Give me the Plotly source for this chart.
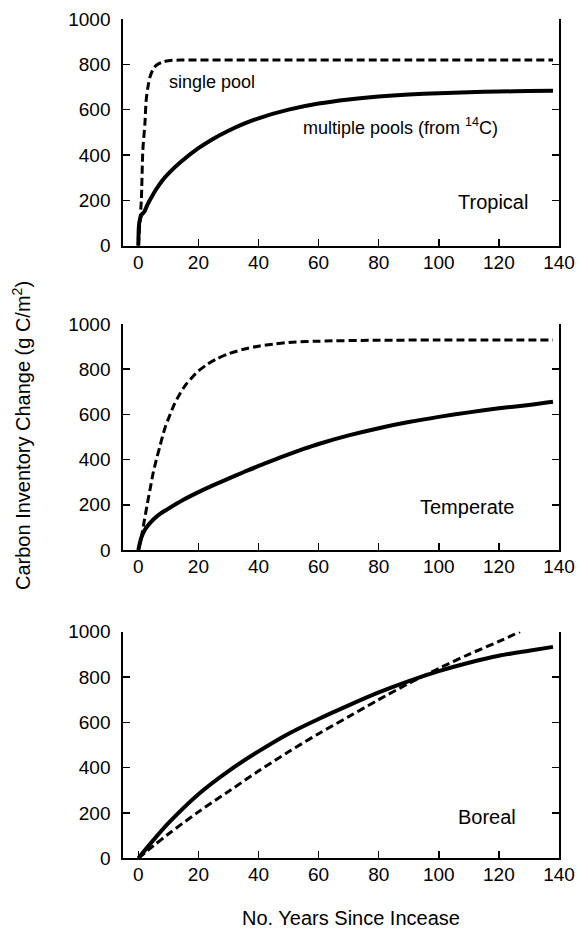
import plotly.graph_objects as go

# ---- data ----
trop_single_x = [0, 0.5, 1.0, 1.5, 2.2, 2.6, 3.2, 3.9, 5.0, 6.1, 8.0, 10, 15, 40, 80, 138]
trop_single_y = [0, 100, 200, 420, 540, 640, 700, 745, 780, 797, 810, 816, 819, 819, 819, 819]
trop_multi_x = [0, 0.3, 1, 2, 3, 4, 6, 8, 10, 14, 20, 25, 30, 35, 40, 50, 60, 70, 80, 90, 100, 110, 120, 130, 138]
trop_multi_y = [0, 100, 135, 150, 180, 205, 250, 288, 318, 368, 430, 472, 507, 537, 562, 600, 627, 645, 658, 667, 673, 677, 680, 682, 684]

temp_single_x = [0, 1, 2, 3, 4, 5, 6, 7, 8, 9, 10, 12, 14, 16, 18, 20, 23, 26, 30, 35, 40, 45, 50, 60, 80, 100, 138]
temp_single_y = [0, 55, 130, 205, 275, 345, 400, 450, 500, 545, 580, 645, 695, 735, 765, 792, 822, 845, 868, 888, 902, 911, 918, 924, 928, 929, 929]
temp_multi_x = [0, 1, 2, 3, 5, 7, 10, 15, 20, 25, 30, 35, 40, 45, 50, 55, 60, 70, 80, 90, 100, 110, 120, 130, 138]
temp_multi_y = [0, 55, 85, 105, 135, 158, 183, 222, 256, 287, 316, 344, 372, 398, 423, 447, 469, 507, 539, 566, 589, 609, 627, 642, 656]

bor_single_x = [0, 5, 10, 20, 30, 40, 50, 60, 70, 80, 90, 100, 110, 120, 127]
bor_single_y = [0, 55, 107, 205, 295, 385, 470, 550, 625, 700, 772, 838, 900, 957, 1000]
bor_multi_x = [0, 5, 10, 20, 30, 40, 50, 60, 70, 80, 90, 100, 110, 120, 130, 138]
bor_multi_y = [0, 80, 155, 283, 385, 472, 550, 615, 675, 732, 782, 826, 863, 894, 916, 933]

x_ticks = [0, 20, 40, 60, 80, 100, 120, 140]
y_ticks = [0, 200, 400, 600, 800, 1000]
panel_names = ["Tropical", "Temperate", "Boreal"]

W, H = 579, 930
FONT = "Liberation Sans, Arial, Helvetica, sans-serif"

fig = go.Figure()

panels = [
    (trop_single_x, trop_single_y, trop_multi_x, trop_multi_y),
    (temp_single_x, temp_single_y, temp_multi_x, temp_multi_y),
    (bor_single_x, bor_single_y, bor_multi_x, bor_multi_y),
]

# pixel positions of panels in the page (top, bottom)
panel_px = [(19, 245.7), (324, 550), (631.7, 858.3)]
x_px = (123.3, 559)

for i, (sx, sy, mx, my) in enumerate(panels):
    n = "" if i == 0 else str(i + 1)
    fig.add_trace(go.Scatter(x=mx, y=my, mode="lines", xaxis="x" + n, yaxis="y" + n,
                             line=dict(color="black", width=4, shape="spline", smoothing=0.8),
                             showlegend=False, hoverinfo="skip"))
    fig.add_trace(go.Scatter(x=sx, y=sy, mode="lines", xaxis="x" + n, yaxis="y" + n,
                             line=dict(color="black", width=3, dash="8px,4px", shape="spline", smoothing=0.8),
                             showlegend=False, hoverinfo="skip"))

layout = dict(
    template="none",
    width=W, height=H,
    margin=dict(l=0, r=0, t=0, b=0, pad=0),
    paper_bgcolor="white", plot_bgcolor="white",
    font=dict(family=FONT, color="black", size=19),
    showlegend=False,
    hovermode=False,
)


def fx(px):
    return px / W


def fy(py):
    return 1 - py / H


for i, (top, bot) in enumerate(panel_px):
    n = "" if i == 0 else str(i + 1)
    layout["xaxis" + n] = dict(
        domain=[fx(x_px[0]), fx(x_px[1])],
        anchor="y" + n,
        range=[-5, 140],
        tickvals=x_ticks, ticktext=[str(v) for v in x_ticks],
        ticks="inside", ticklen=7, tickwidth=1.5, tickcolor="black",
        showline=True, linecolor="black", linewidth=2,
        showgrid=False, zeroline=False, automargin=False,
        tickfont=dict(size=19, family=FONT, color="black"),
        ticklabelstandoff=-2,
    )
    layout["yaxis" + n] = dict(
        domain=[fy(bot), fy(top)],
        anchor="x" + n,
        range=[0, 1000],
        tickvals=y_ticks, ticktext=[str(v) for v in y_ticks],
        ticks="inside", ticklen=7, tickwidth=1.5, tickcolor="black",
        showline=True, linecolor="black", linewidth=2, mirror="ticks",
        showgrid=False, zeroline=False, automargin=False,
        tickfont=dict(size=19, family=FONT, color="black"),
        ticklabelstandoff=7,
    )

fig.update_layout(**layout)

annotations = [
    dict(text="single pool", x=9.5, y=723, xref="x", yref="y", xanchor="left", yanchor="middle",
         showarrow=False, font=dict(size=18)),
    dict(text="multiple pools (from <sup>14</sup>C)", x=54.3, y=525, xref="x", yref="y",
         xanchor="left", yanchor="middle", showarrow=False, font=dict(size=18)),
    dict(text=panel_names[0], x=118, y=194, xref="x", yref="y", showarrow=False, font=dict(size=20)),
    dict(text=panel_names[1], x=109.5, y=192, xref="x2", yref="y2", showarrow=False, font=dict(size=20)),
    dict(text=panel_names[2], x=116.2, y=181, xref="x3", yref="y3", showarrow=False, font=dict(size=20)),
    dict(text="Carbon Inventory Change (g C/m<sup>2</sup>)", x=fx(22), y=fy(436), xref="paper", yref="paper",
         textangle=-90, showarrow=False, font=dict(size=20), xanchor="center", yanchor="middle"),
    dict(text="No. Years Since Incease", x=fx(350.5), y=fy(918), xref="paper", yref="paper",
         showarrow=False, font=dict(size=20), xanchor="center", yanchor="middle"),
]
fig.update_layout(annotations=annotations)

fig.write_html(
    "out.html",
    config={"displayModeBar": False, "staticPlot": True},
    post_script="document.body.style.margin='0';document.body.style.overflow='hidden';",
)
